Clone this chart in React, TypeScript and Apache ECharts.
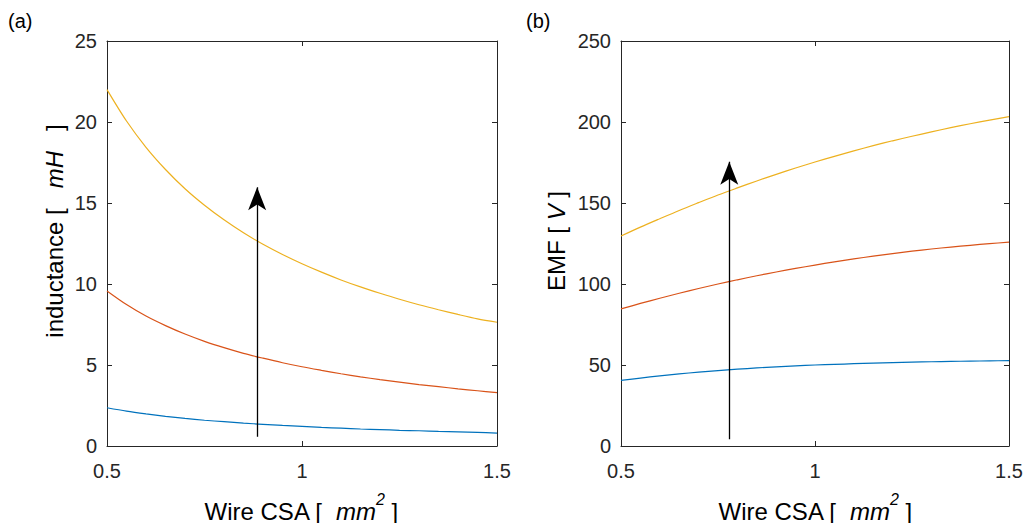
import React, { useEffect, useRef } from "react";
import * as echarts from "echarts";

// Wire cross-sectional area samples (mm^2)
const WIRE_CSA = [
  0.5, 0.55, 0.6, 0.65, 0.7, 0.75, 0.8, 0.85, 0.9, 0.95, 1.0,
  1.05, 1.1, 1.15, 1.2, 1.25, 1.3, 1.35, 1.4, 1.45, 1.5,
];

// (a) inductance [mH]
const IND_HIGH = [
  22.0, 20.06, 18.44, 17.07, 15.88, 14.86, 13.96, 13.16, 12.45, 11.82, 11.25,
  10.73, 10.25, 9.82, 9.43, 9.06, 8.72, 8.41, 8.12, 7.85, 7.64,
];
const IND_MID = [
  9.57, 8.73, 8.02, 7.43, 6.91, 6.46, 6.07, 5.72, 5.42, 5.14, 4.89,
  4.67, 4.46, 4.27, 4.1, 3.94, 3.79, 3.66, 3.53, 3.41, 3.29,
];
const IND_LOW = [
  2.36, 2.15, 1.98, 1.83, 1.7, 1.59, 1.5, 1.41, 1.34, 1.27, 1.21,
  1.15, 1.1, 1.05, 1.01, 0.97, 0.94, 0.9, 0.87, 0.84, 0.8,
];

// (b) EMF [V]
const EMF_HIGH = [
  129.6, 135.1, 140.3, 145.4, 150.2, 154.9, 159.3, 163.6, 167.7, 171.6, 175.3,
  178.8, 182.2, 185.4, 188.4, 191.2, 193.9, 196.5, 198.9, 201.2, 203.3,
];
const EMF_MID = [
  84.6, 88.0, 91.2, 94.3, 97.2, 100.0, 102.6, 105.1, 107.4, 109.6, 111.7,
  113.7, 115.5, 117.2, 118.8, 120.3, 121.6, 122.8, 123.9, 124.9, 125.8,
];
const EMF_LOW = [
  40.5, 41.95, 43.3, 44.5, 45.6, 46.55, 47.4, 48.2, 48.9, 49.5, 50.0,
  50.4, 50.8, 51.2, 51.5, 51.75, 52.0, 52.2, 52.4, 52.55, 52.7,
];

// arrows: [x, yStart, yTip]
const ARROW_A = [0.885, 0.57, 15.97];
const ARROW_B = [0.779, 4.1, 175.5];

const X_TICKS = { min: 0.5, max: 1.5, interval: 0.5 };
const Y_TICKS_A = { min: 0, max: 25, interval: 5 };
const Y_TICKS_B = { min: 0, max: 250, interval: 50 };

const BLUE = "#0072BD";
const ORANGE = "#D95319";
const YELLOW = "#EDB120";
const AX = "#262626";
const FONT = "Liberation Sans, Arial, Helvetica, sans-serif";

function axis(kind: "x" | "y", gridIndex: number, position: string, showLabel: boolean, ticks: any) {
  return {
    type: "value",
    gridIndex,
    position,
    min: ticks.min,
    max: ticks.max,
    interval: ticks.interval,
    axisLine: { show: true, onZero: false, lineStyle: { color: AX, width: 1 } },
    axisTick: { show: true, inside: true, length: 5, lineStyle: { color: AX, width: 1 } },
    axisLabel: {
      show: showLabel,
      color: AX,
      fontSize: 20,
      fontFamily: FONT,
      margin: kind === "x" ? 15 : 10,
      padding: kind === "y" ? [5, 0, 0, 0] : 0,
    },
    splitLine: { show: false },
  };
}

function curve(values: number[], color: string, xi: number, yi: number) {
  return {
    type: "line",
    xAxisIndex: xi,
    yAxisIndex: yi,
    data: WIRE_CSA.map((x, i) => [x, values[i]]),
    showSymbol: false,
    symbol: "none",
    smooth: 0.3,
    lineStyle: { color, width: 1.2 },
    silent: true,
  };
}

function arrow(a: number[], xi: number, yi: number) {
  return {
    type: "line",
    xAxisIndex: xi,
    yAxisIndex: yi,
    data: [],
    silent: true,
    markLine: {
      silent: true,
      animation: false,
      symbol: ["none", "arrow"],
      symbolSize: [13.5, 23],
      label: { show: false },
      lineStyle: { color: "#000", width: 1.3, type: "solid" },
      itemStyle: { color: "#000" },
      emphasis: { disabled: true },
      data: [[{ coord: [a[0], a[1]] }, { coord: [a[0], a[2]] }]],
    },
  };
}

const titleRich = {
  n: { fontSize: 24, fontFamily: FONT, color: AX, lineHeight: 32, verticalAlign: "bottom" },
  i: { fontSize: 24, fontFamily: FONT, fontStyle: "italic", color: AX, lineHeight: 32, verticalAlign: "bottom" },
  s: { fontSize: 16, fontFamily: FONT, fontStyle: "italic", color: AX, lineHeight: 32, verticalAlign: "top" },
};

export default function App() {
  const ref = useRef<HTMLDivElement>(null);
  useEffect(() => {
    if (!ref.current) return;
    const chart = echarts.init(ref.current, null, { renderer: "svg" });
    chart.setOption({
      animation: false,
      backgroundColor: "#ffffff",
      grid: [
        { left: 107, top: 41, width: 390, height: 405 },
        { left: 621, top: 41, width: 388, height: 405 },
      ],
      xAxis: [
        axis("x", 0, "bottom", true, X_TICKS),
        axis("x", 0, "top", false, X_TICKS),
        axis("x", 1, "bottom", true, X_TICKS),
        axis("x", 1, "top", false, X_TICKS),
      ],
      yAxis: [
        axis("y", 0, "left", true, Y_TICKS_A),
        axis("y", 0, "right", false, Y_TICKS_A),
        axis("y", 1, "left", true, Y_TICKS_B),
        axis("y", 1, "right", false, Y_TICKS_B),
      ],
      series: [
        curve(IND_LOW, BLUE, 0, 0),
        curve(IND_MID, ORANGE, 0, 0),
        curve(IND_HIGH, YELLOW, 0, 0),
        arrow(ARROW_A, 0, 0),
        curve(EMF_LOW, BLUE, 2, 2),
        curve(EMF_MID, ORANGE, 2, 2),
        curve(EMF_HIGH, YELLOW, 2, 2),
        arrow(ARROW_B, 2, 2),
      ],
      graphic: [
        { type: "text", left: 8, top: 11, style: { text: "(a)", fontSize: 20, fontFamily: FONT, fill: "#000" } },
        { type: "text", left: 526, top: 11, style: { text: "(b)", fontSize: 20, fontFamily: FONT, fill: "#000" } },
        {
          type: "text",
          x: 301,
          y: 507,
          style: {
            text: "{n|Wire CSA [  }{i|mm}{s|2}{n| ]}",
            rich: titleRich,
            align: "center",
            verticalAlign: "middle",
          },
        },
        {
          type: "text",
          x: 815,
          y: 507,
          style: {
            text: "{n|Wire CSA [  }{i|mm}{s|2}{n| ]}",
            rich: titleRich,
            align: "center",
            verticalAlign: "middle",
          },
        },
        {
          type: "text",
          x: 50,
          y: 231,
          rotation: Math.PI / 2,
          style: {
            text: "{n|inductance [   }{i|mH}{n|   ]}",
            rich: titleRich,
            align: "center",
            verticalAlign: "middle",
          },
        },
        {
          type: "text",
          x: 552,
          y: 241,
          rotation: Math.PI / 2,
          style: {
            text: "{n|EMF [ }{i|V}{n| ]}",
            rich: titleRich,
            align: "center",
            verticalAlign: "middle",
          },
        },
      ],
    });
    return () => chart.dispose();
  }, []);
  return (
    <div
      ref={ref}
      style={{ position: "fixed", left: 0, top: 0, width: 1026, height: 523, background: "#fff" }}
    />
  );
}
